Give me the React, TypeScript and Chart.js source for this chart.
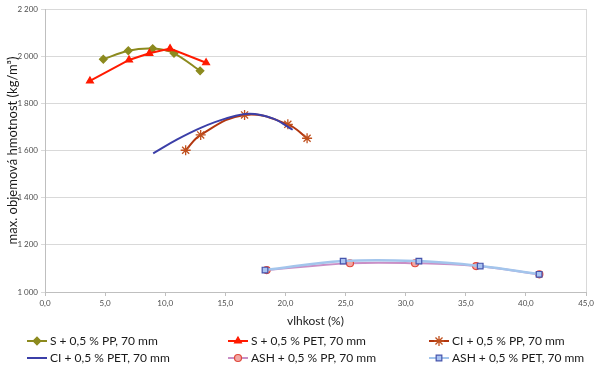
import React, { useEffect, useRef } from "react";
import { Chart, registerables } from "chart.js";
import { drawPoint } from "chart.js/helpers";

Chart.register(...registerables);

// ---- data ----
const seriesNames = [
  "S + 0,5 % PP, 70 mm",
  "S + 0,5 % PET, 70 mm",
  "CI + 0,5 % PP, 70 mm",
  "CI + 0,5 % PET, 70 mm",
  "ASH + 0,5 % PP, 70 mm",
  "ASH + 0,5 % PET, 70 mm",
];

const sPpX = [4.85, 6.93, 8.96, 10.73, 12.9];
const sPpY = [1987, 2023, 2032, 2012, 1938];

const sPetX = [3.74, 6.99, 8.68, 10.4, 13.4];
const sPetY = [1895, 1984, 2012, 2032, 1972];

const ciPpX = [11.7, 12.95, 16.6, 20.2, 21.8];
const ciPpY = [1601, 1666, 1751, 1711, 1652];

const ciPetX = [9.0, 11.0, 13.0, 15.0, 17.0, 19.0, 20.6];
const ciPetY = [1588, 1647, 1697, 1735, 1756, 1735, 1688];

const ashPpX = [18.44, 25.37, 30.78, 35.86, 41.12];
const ashPpY = [1093, 1122, 1122, 1110, 1075];

const ashPetX = [18.3, 24.8, 31.1, 36.2, 41.1];
const ashPetY = [1093, 1131, 1131, 1110, 1075];

const xTicksMin = 0;
const xTicksMax = 45;
const xStep = 5;
const yTicksMin = 1000;
const yTicksMax = 2200;
const yStep = 200;

const xTitle = "vlhkost (%)";
const yTitle = "max. objemová hmotnost (kg/m³)";

const FONT = "Lato, 'Open Sans', sans-serif";

const pts = (xs: number[], ys: number[]) => xs.map((x, i) => ({ x, y: ys[i] }));

const fmtThousands = (v: number) => {
  const s = Math.round(v).toString();
  return s.replace(/\B(?=(\d{3})+(?!\d))/g, " ");
};

const legendPlugin = {
  id: "customLegend",
  afterDraw(chart: any) {
    const ctx = chart.ctx;
    const cols = 3;
    const colW = 201;
    const startX = 27;
    const startY = 341;
    const rowH = 17;
    chart.data.datasets.forEach((ds: any, i: number) => {
      const col = i % cols;
      const row = Math.floor(i / cols);
      const x = startX + col * colW;
      const y = startY + row * rowH;
      ctx.save();
      ctx.strokeStyle = ds.borderColor;
      ctx.lineWidth = 2;
      ctx.beginPath();
      ctx.moveTo(x, y);
      ctx.lineTo(x + 20, y);
      ctx.stroke();
      if (ds.pointRadius > 0) {
        ctx.fillStyle = ds.pointBackgroundColor;
        ctx.strokeStyle = ds.pointBorderColor;
        ctx.lineWidth = ds.pointBorderWidth || 1;
        drawPoint(
          ctx,
          { pointStyle: ds.pointStyle, radius: ds.pointRadius, rotation: 0, borderWidth: ds.pointBorderWidth || 1 },
          x + 10,
          y
        );
      }
      ctx.fillStyle = "#1a1a1a";
      ctx.font = `12px ${FONT}`;
      ctx.textBaseline = "middle";
      ctx.textAlign = "left";
      ctx.fillText(ds.label, x + 23, y);
      ctx.restore();
    });
  },
};

const borderPlugin = {
  id: "rightBorder",
  afterDatasetsDraw(chart: any) {
    const { ctx, chartArea } = chart;
    ctx.save();
    ctx.strokeStyle = "#d9d9d9";
    ctx.lineWidth = 1;
    ctx.beginPath();
    ctx.moveTo(Math.round(chartArea.right) + 0.5, chartArea.top);
    ctx.lineTo(Math.round(chartArea.right) + 0.5, chartArea.bottom);
    ctx.stroke();
    ctx.restore();
  },
};

export default function App() {
  const ref = useRef<HTMLCanvasElement>(null);

  useEffect(() => {
    document.body.style.margin = "0";
    if (!ref.current) return;
    const mk = (
      i: number,
      xs: number[],
      ys: number[],
      color: string,
      style: any,
      radius: number,
      bg: string,
      border: string,
      tension: number,
      width = 2
    ) => ({
      label: seriesNames[i],
      data: pts(xs, ys),
      showLine: true,
      borderColor: color,
      borderWidth: width,
      backgroundColor: color,
      pointStyle: style,
      pointRadius: radius,
      pointHoverRadius: radius,
      pointBackgroundColor: bg,
      pointBorderColor: border,
      pointBorderWidth: style === "star" ? 1.3 : 1.2,
      tension,
      order: 6 - i,
    });

    const chart = new Chart(ref.current, {
      type: "scatter",
      data: {
        datasets: [
          mk(0, sPpX, sPpY, "#8c8a1e", "rectRot", 3.8, "#8c8a1e", "#8c8a1e", 0.3),
          mk(1, sPetX, sPetY, "#ff1a00", "triangle", 4, "#ff1a00", "#ff1a00", 0),
          mk(2, ciPpX, ciPpY, "#b2360f", "star", 5, "#b2360f", "#c0501e", 0.4),
          mk(3, ciPetX, ciPetY, "#3b3fa8", "circle", 0, "#3b3fa8", "#3b3fa8", 0.4),
          mk(4, ashPpX, ashPpY, "#c98fc6", "circle", 3.5, "#f2a7a4", "#e0483c", 0.4),
          mk(5, ashPetX, ashPetY, "#a3c5ec", "rect", 4, "#a9c3f2", "#4654ac", 0.4, 2.5),
        ] as any,
      },
      options: {
        animation: false,
        responsive: true,
        maintainAspectRatio: false,
        layout: { padding: { left: 0, right: 14, top: 9, bottom: 39 } },
        plugins: {
          legend: { display: false },
          tooltip: { enabled: false },
        },
        scales: {
          x: {
            type: "linear",
            min: xTicksMin,
            max: xTicksMax,
            afterFit: (s: any) => {
              s.height = 38;
            },
            ticks: {
              stepSize: xStep,
              color: "#4d4d4d",
              font: { family: FONT, size: 8 },
              padding: 3,
              callback: (v: any) => Number(v).toFixed(1).replace(".", ","),
            },
            grid: {
              drawOnChartArea: false,
              drawTicks: true,
              tickLength: 4,
              color: "#bfbfbf",
            },
            border: { color: "#bfbfbf" },
            title: {
              display: true,
              text: xTitle,
              color: "#1a1a1a",
              font: { family: FONT, size: 12 },
              padding: { top: 2, bottom: 2 },
            },
          },
          y: {
            type: "linear",
            min: yTicksMin,
            max: yTicksMax,
            afterFit: (s: any) => {
              s.width = 45;
            },
            ticks: {
              stepSize: yStep,
              color: "#4d4d4d",
              font: { family: FONT, size: 8 },
              padding: 3,
              callback: (v: any) => fmtThousands(Number(v)),
            },
            grid: {
              color: "#d9d9d9",
              drawTicks: true,
              tickLength: 4,
            },
            border: { color: "#bfbfbf" },
            title: {
              display: true,
              text: yTitle,
              color: "#1a1a1a",
              font: { family: FONT, size: 13 },
              padding: { top: 5, bottom: 0 },
            },
          },
        },
      },
      plugins: [legendPlugin, borderPlugin],
    });
    return () => chart.destroy();
  }, []);

  return (
    <div style={{ position: "relative", width: 600, height: 369 }}>
      <canvas ref={ref} />
    </div>
  );
}
